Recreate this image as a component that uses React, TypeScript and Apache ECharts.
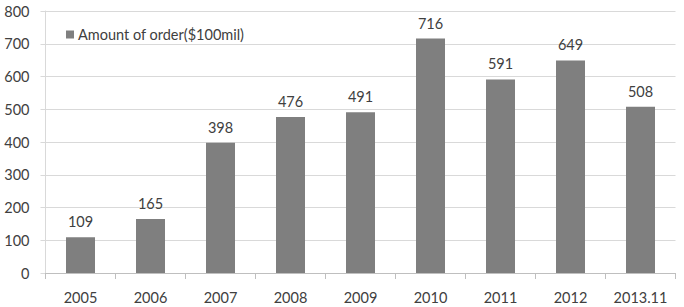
import React, { useEffect, useRef } from "react";
import * as echarts from "echarts";

const categories = ["2005", "2006", "2007", "2008", "2009", "2010", "2011", "2012", "2013.11"];
const orderAmounts = [109, 165, 398, 476, 491, 716, 591, 649, 508];
const seriesName = "Amount of order($100mil)";

const FONT = "Lato, 'Open Sans', sans-serif";
const TEXT = "#404040";
const LINE = "#d9d9d9";

export default function App() {
  const ref = useRef<HTMLDivElement>(null);

  useEffect(() => {
    if (!ref.current) return;
    const chart = echarts.init(ref.current, undefined, { renderer: "svg" });
    chart.setOption({
      animation: false,
      textStyle: { fontFamily: FONT },
      grid: { left: 45.5, right: 8.5, top: 11, bottom: 34 },
      legend: {
        left: 61,
        top: 22,
        itemWidth: 8,
        itemHeight: 8,
        itemGap: 6,
        icon: "rect",
        textStyle: { fontSize: 14.5, color: TEXT, fontFamily: FONT, padding: [0, 0, 0, -1] },
        data: [seriesName],
      },
      xAxis: {
        type: "category",
        data: categories,
        axisLine: { lineStyle: { color: "#bfbfbf" } },
        axisTick: { show: true, length: 6, lineStyle: { color: "#bfbfbf" } },
        axisLabel: { color: TEXT, fontSize: 14.5, margin: 17, fontFamily: FONT, interval: 0 },
      },
      yAxis: {
        type: "value",
        min: 0,
        max: 800,
        interval: 100,
        axisLine: { show: true, lineStyle: { color: LINE } },
        axisTick: { show: true, length: 5, lineStyle: { color: LINE } },
        axisLabel: { color: TEXT, fontSize: 14.5, margin: 16, fontFamily: FONT },
        splitLine: { lineStyle: { color: LINE, width: 1 } },
      },
      series: [
        {
          name: seriesName,
          type: "bar",
          data: orderAmounts,
          barWidth: 29,
          itemStyle: { color: "#7f7f7f" },
          label: {
            show: true,
            position: "top",
            distance: 8,
            color: TEXT,
            fontSize: 14.5,
            fontFamily: FONT,
          },
        },
      ],
    });
    return () => chart.dispose();
  }, []);

  return (
    <div
      ref={ref}
      style={{ position: "fixed", left: 0, top: 0, width: 684, height: 307, background: "#fff" }}
    />
  );
}
